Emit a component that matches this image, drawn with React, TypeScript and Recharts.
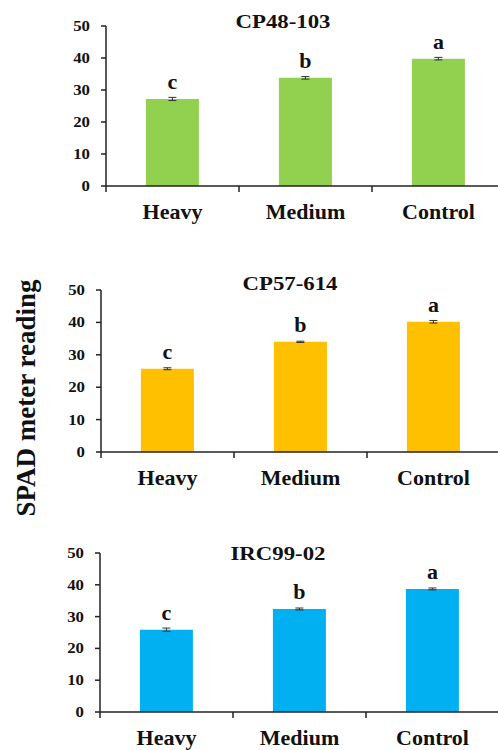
import React from 'react';
import { BarChart, Bar, XAxis, YAxis, ErrorBar, LabelList } from 'recharts';

const categories = ['Heavy', 'Medium', 'Control'];
const letters = ['c', 'b', 'a'];
const yTicks = [0, 10, 20, 30, 40, 50];

const cp48Values = [27.2, 33.8, 39.8];
const cp48Errors = [0.5, 0.4, 0.4];
const cp57Values = [25.7, 34.0, 40.2];
const cp57Errors = [0.3, 0.2, 0.4];
const ircValues = [25.9, 32.4, 38.7];
const ircErrors = [0.5, 0.3, 0.3];

const FONT = '"Liberation Serif", "Times New Roman", serif';
const INK = '#111';
const AXIS = '#222';
const SX = 1.2;

const YTick = (props: any) => {
  const { x, y, payload } = props;
  return (
    <g transform={`translate(${x},${y})`}>
      <text transform={`scale(${SX},1)`} textAnchor="end" dy="0.35em" fontFamily={FONT} fontWeight="bold" fontSize={14} fill={INK}>
        {payload.value}
      </text>
    </g>
  );
};

// Category label plus Excel-style tick marks on the category boundaries.
const XTick = (props: any) => {
  const { x, y, payload, index, visibleTicksCount, width } = props;
  const count = visibleTicksCount || categories.length;
  const band = width / count;
  const left = x - band / 2;
  const right = x + band / 2;
  return (
    <g>
      <line x1={left} x2={left} y1={y} y2={y + 6} stroke={AXIS} strokeWidth={1.5} />
      {index === count - 1 && <line x1={right} x2={right} y1={y} y2={y + 6} stroke={AXIS} strokeWidth={1.5} />}
      <text x={x} y={y} dy={33} textAnchor="middle" fontFamily={FONT} fontWeight="bold" fontSize={22} fill={INK}>
        {payload.value}
      </text>
    </g>
  );
};

type PanelProps = {
  title: string;
  values: number[];
  errors: number[];
  color: string;
  top: number;
  yAxisWidth: number;
  marginTop: number;
  plotHeight: number;
  bottom: number;
  titleX: number;
  titleY: number;
};

const Panel = (p: PanelProps) => {
  const data = categories.map((name, i) => ({ name, value: p.values[i], err: p.errors[i], letter: letters[i] }));
  const width = 520;
  const height = p.marginTop + p.plotHeight + p.bottom;
  return (
    <div style={{ position: 'absolute', left: 0, top: p.top, width: 498, height, overflow: 'hidden' }}>
      <BarChart
        width={width}
        height={height}
        data={data}
        margin={{ top: p.marginTop, right: width - p.yAxisWidth - 399, bottom: 0, left: 0 }}
        barCategoryGap="30%"
      >
        <XAxis
          dataKey="name"
          height={p.bottom}
          axisLine={{ stroke: AXIS, strokeWidth: 1.5 }}
          tickLine={false}
          tickSize={0}
          tickMargin={0}
          tick={<XTick />}
          interval={0}
        />
        <YAxis
          width={p.yAxisWidth}
          domain={[0, 50]}
          ticks={yTicks}
          interval={0}
          tickSize={5}
          tickMargin={11}
          tick={<YTick />}
          axisLine={{ stroke: AXIS, strokeWidth: 1.5 }}
          tickLine={{ stroke: AXIS, strokeWidth: 1.5 }}
        />
        <Bar dataKey="value" fill={p.color} isAnimationActive={false}>
          <ErrorBar dataKey="err" width={4} strokeWidth={1} stroke="#333" direction="y" />
          <LabelList dataKey="letter" position="top" offset={10} fontFamily={FONT} fontWeight="bold" fontSize={22} fill={INK} />
        </Bar>
      </BarChart>
      <div
        style={{
          position: 'absolute',
          left: p.titleX - 100,
          top: p.titleY - p.top - 12,
          width: 200,
          height: 24,
          lineHeight: '24px',
          textAlign: 'center',
          fontFamily: FONT,
          fontWeight: 'bold',
          fontSize: 19,
          color: INK,
          transform: `scaleX(${SX})`,
        }}
      >
        {p.title}
      </div>
    </div>
  );
};

export default function App() {
  return (
    <div style={{ position: 'absolute', left: 0, top: 0, width: 498, height: 750, background: '#fff', overflow: 'hidden' }}>
      <Panel title="CP48-103" values={cp48Values} errors={cp48Errors} color="#92D050" top={0} yAxisWidth={106} marginTop={26} plotHeight={160} bottom={45} titleX={283} titleY={22} />
      <Panel title="CP57-614" values={cp57Values} errors={cp57Errors} color="#FFC000" top={260} yAxisWidth={101} marginTop={30} plotHeight={162} bottom={45} titleX={290} titleY={284} />
      <Panel title="IRC99-02" values={ircValues} errors={ircErrors} color="#00B0F0" top={520} yAxisWidth={100} marginTop={33} plotHeight={159} bottom={38} titleX={278} titleY={554} />
      <svg style={{ position: 'absolute', left: 0, top: 0 }} width={60} height={750}>
        <text
          transform="translate(35,398) rotate(-90)"
          textAnchor="middle"
          fontFamily={FONT}
          fontWeight="bold"
          fontSize={27}
          fill={INK}
        >
          SPAD meter reading
        </text>
      </svg>
    </div>
  );
}
